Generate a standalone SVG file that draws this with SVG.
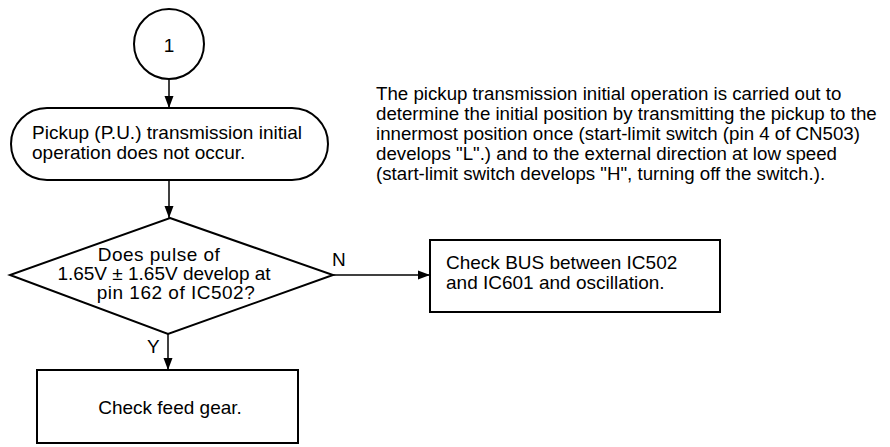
<svg xmlns="http://www.w3.org/2000/svg" width="890" height="447" viewBox="0 0 890 447">
<style>
.s{fill:#fff;stroke:#000;stroke-width:2}
.t{font-family:"Liberation Sans",Arial,sans-serif;font-size:19px;fill:#000}
.p{font-family:"Liberation Sans",Arial,sans-serif;font-size:18.7px;fill:#000}
.m{text-anchor:middle}
.c{stroke:#000;stroke-width:1.5;fill:none}
</style>
<defs>
<marker id="ah" markerWidth="12" markerHeight="14" refX="12" refY="7" orient="auto" markerUnits="userSpaceOnUse">
<path d="M0,2.5 L12,7 L0,11.5 Z" fill="#000"/>
</marker>
</defs>
<rect width="890" height="447" fill="#fff"/>
<g id="connectors">
<line class="c" x1="169" y1="79" x2="169" y2="108" marker-end="url(#ah)"/>
<line class="c" x1="169" y1="180" x2="169" y2="218" marker-end="url(#ah)"/>
<line class="c" x1="168" y1="334" x2="168" y2="370" marker-end="url(#ah)"/>
<line class="c" x1="333" y1="275" x2="430" y2="275" marker-end="url(#ah)"/>
<text class="t" x="332" y="266">N</text>
<text class="t" x="147" y="353">Y</text>
</g>
<g id="start">
<circle class="s" cx="169" cy="44" r="35"/>
<text class="t m" x="169" y="52" font-size="21">1</text>
</g>
<g id="n1">
<rect class="s" x="11" y="108" width="317" height="72" rx="36" ry="36"/>
<text class="t" x="32" y="139">Pickup (P.U.) transmission initial</text>
<text class="t" x="32" y="159">operation does not occur.</text>
</g>
<g id="d1">
<polygon class="s" points="170,218 333,275 168,334 10,275"/>
<text class="t m" x="159" y="261" letter-spacing="0.5">Does pulse of</text>
<text class="t m" x="164" y="280">1.65V ± 1.65V develop at</text>
<text class="t m" x="176" y="299" letter-spacing="0.5">pin 162 of IC502?</text>
</g>
<g id="n2">
<rect class="s" x="430" y="240" width="290" height="72"/>
<text class="t" x="446" y="269">Check BUS between IC502</text>
<text class="t" x="446" y="289">and IC601 and oscillation.</text>
</g>
<g id="n3">
<rect class="s" x="37" y="370" width="261" height="73"/>
<text class="t m" x="170" y="414">Check feed gear.</text>
</g>
<g id="note">
<text class="p" x="376" y="100">The pickup transmission initial operation is carried out to</text>
<text class="p" x="376" y="120">determine the initial position by transmitting the pickup to the</text>
<text class="p" x="376" y="140">innermost position once (start-limit switch (pin 4 of CN503)</text>
<text class="p" x="376" y="160">develops "L".) and to the external direction at low speed</text>
<text class="p" x="376" y="180">(start-limit switch develops "H", turning off the switch.).</text>
</g>
</svg>
